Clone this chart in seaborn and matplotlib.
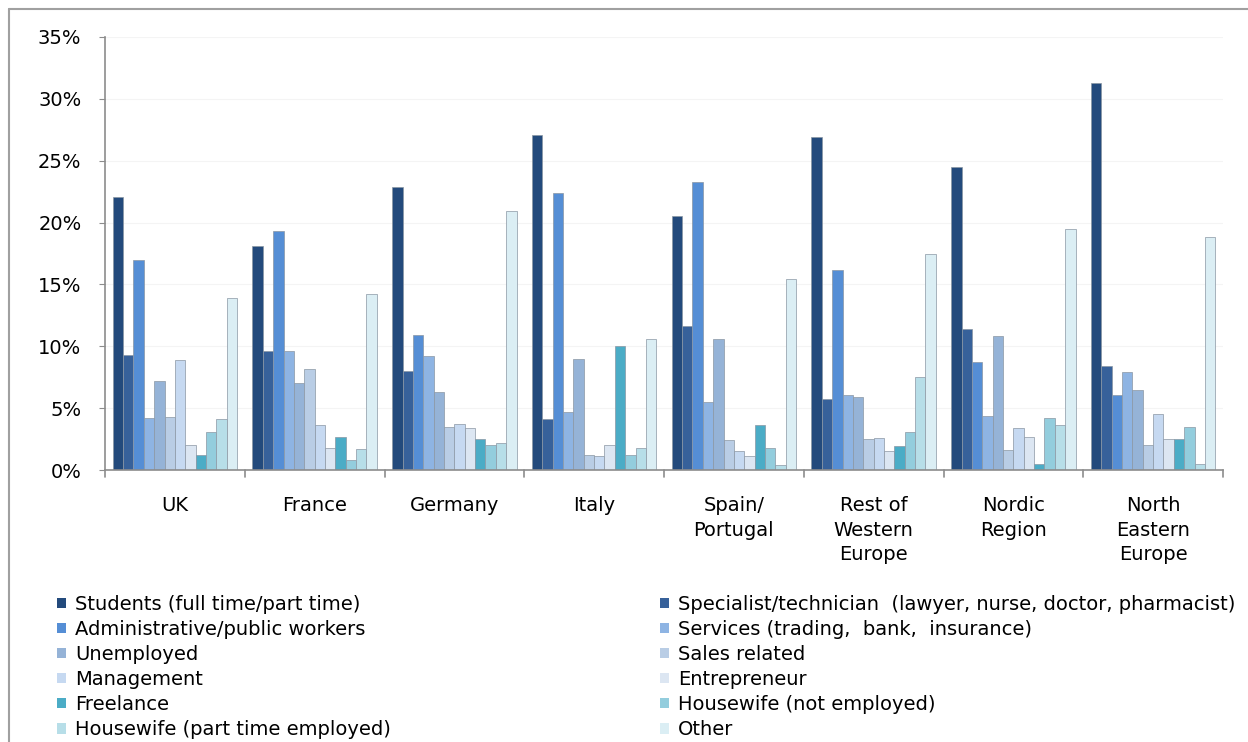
import matplotlib
matplotlib.use("Agg")
import matplotlib.pyplot as plt
import matplotlib.patches as mpatches
from matplotlib.lines import Line2D
import seaborn as sns
import pandas as pd

regions = ["UK", "France", "Germany", "Italy", "Spain/\nPortugal",
           "Rest of\nWestern\nEurope", "Nordic\nRegion", "North\nEastern\nEurope"]

series = [
    "Students (full time/part time)",
    "Specialist/technician  (lawyer, nurse, doctor, pharmacist)",
    "Administrative/public workers",
    "Services (trading,  bank,  insurance)",
    "Unemployed",
    "Sales related",
    "Management",
    "Entrepreneur",
    "Freelance",
    "Housewife (not employed)",
    "Housewife (part time employed)",
    "Other",
]

students     = [22.1, 18.1, 22.9, 27.1, 20.5, 26.9, 24.5, 31.3]
specialist   = [9.3, 9.6, 8.0, 4.1, 11.6, 5.7, 11.4, 8.4]
admin        = [17.0, 19.3, 10.9, 22.4, 23.3, 16.2, 8.7, 6.1]
services     = [4.2, 9.6, 9.2, 4.7, 5.5, 6.1, 4.4, 7.9]
unemployed   = [7.2, 7.0, 6.3, 9.0, 10.6, 5.9, 10.8, 6.5]
sales        = [4.3, 8.2, 3.5, 1.2, 2.4, 2.5, 1.6, 2.0]
management   = [8.9, 3.6, 3.7, 1.1, 1.5, 2.6, 3.4, 4.5]
entrepreneur = [2.0, 1.8, 3.4, 2.0, 1.1, 1.5, 2.7, 2.5]
freelance    = [1.2, 2.7, 2.5, 10.0, 3.6, 1.9, 0.5, 2.5]
hw_not       = [3.1, 0.8, 2.0, 1.2, 1.8, 3.1, 4.2, 3.5]
hw_part      = [4.1, 1.7, 2.2, 1.8, 0.4, 7.5, 3.6, 0.5]
other        = [13.9, 14.2, 20.9, 10.6, 15.4, 17.5, 19.5, 18.8]

values = [students, specialist, admin, services, unemployed, sales,
          management, entrepreneur, freelance, hw_not, hw_part, other]

colors = ["#234A7C", "#37619A", "#558ED5", "#8EB4E3", "#95B3D7", "#B9CDE5",
          "#C6D9F1", "#DCE6F2", "#4BACC6", "#93CDDD", "#B7DEE8", "#DBEEF4"]

rows = []
for s, vals in zip(series, values):
    for r, v in zip(regions, vals):
        rows.append({"region": r, "series": s, "value": v / 100.0})
df = pd.DataFrame(rows)

sns.set_style("white")
plt.rcParams["font.family"] = ["DejaVu Sans"]
plt.rcParams["text.color"] = "black"

fig = plt.figure(figsize=(12.48, 7.42), dpi=100)
ax = fig.add_axes([105 / 1248, 1 - 470 / 742, (1223 - 105) / 1248, (470 - 37) / 742])

sns.barplot(data=df, x="region", y="value", hue="series", order=regions,
            hue_order=series, palette=colors, width=0.89, ax=ax,
            edgecolor="#8a96a3", linewidth=0.5, legend=False, saturation=1)

ax.set_ylim(0, 0.35)
ax.set_xlim(-0.5, len(regions) - 0.5)
ax.set_yticks([i * 0.05 for i in range(8)])
ax.set_yticklabels([f"{i * 5}%" for i in range(8)], fontsize=14, color="black")
ax.set_xticks(range(len(regions)))
ax.set_xticklabels(regions, fontsize=14, linespacing=1.35, color="black")
ax.set_xlabel("")
ax.set_ylabel("")
ax.yaxis.grid(True, color="#f4f4f4", linewidth=0.8)
ax.set_axisbelow(True)
for sp in ["top", "right"]:
    ax.spines[sp].set_visible(False)
for sp in ["left", "bottom"]:
    ax.spines[sp].set_color("#8c8c8c")
    ax.spines[sp].set_linewidth(1.2)
ax.tick_params(axis="y", length=4, color="#8c8c8c", pad=13, left=True)
ax.tick_params(axis="x", length=0, pad=19)
for b in range(len(regions) + 1):
    ax.plot([b - 0.5, b - 0.5], [0, -0.006], color="#8c8c8c", lw=1.2,
            clip_on=False, transform=ax.transData)

left_idx = [0, 2, 4, 6, 8, 10]
right_idx = [1, 3, 5, 7, 9, 11]
for idx, x0 in ((left_idx, 57 / 1248), (right_idx, 660 / 1248)):
    handles = [mpatches.Patch(facecolor=colors[i], edgecolor="none") for i in idx]
    labels = [series[i] for i in idx]
    fig.legend(handles, labels, loc="upper left", bbox_to_anchor=(x0, 1 - 595 / 742),
               frameon=False, fontsize=14, handlelength=0.46, handleheight=0.46,
               handletextpad=0.46, labelspacing=0.31, borderaxespad=0, borderpad=0,
               labelcolor="black")

fig.add_artist(Line2D([9 / 1248, 1], [1 - 9 / 742, 1 - 9 / 742], color="#a0a0a0", lw=1.5))
fig.add_artist(Line2D([9 / 1248, 9 / 1248], [0, 1 - 9 / 742], color="#a0a0a0", lw=1.5))

fig.savefig("out.png", dpi=100)
